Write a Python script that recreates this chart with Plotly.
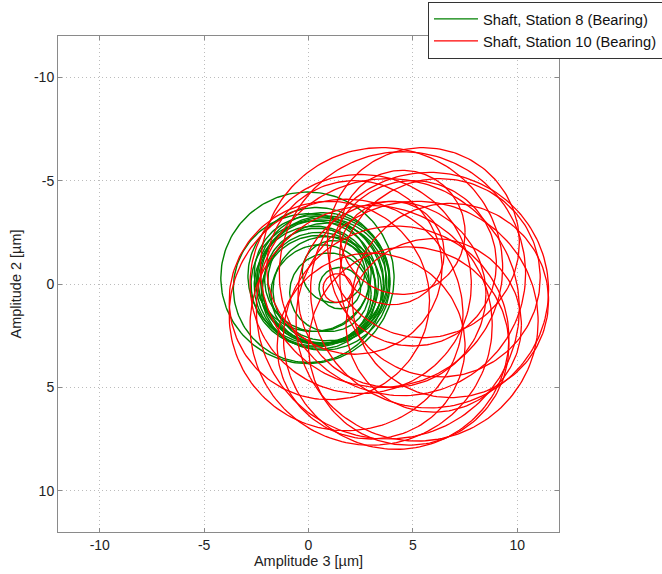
import numpy as np
import plotly.graph_objects as go

# Orbit rings: centre (Amplitude 3, Amplitude 2) and radius, in micrometres
st8_cx = [-0.05, 0.4, 0.6, 0.3, 0.8, 0.5, 0.2, 0.7, 0.9, 0.4, 0.6, 1.0, 1.5, 1.2, 0.0,
          0.7, 0.3, 0.9, 0.5]
st8_cy = [-0.3, -0.4, -0.1, 0.1, -0.2, 0.2, -0.5, 0.0, 0.3, -0.2, 0.5, 0.4, 0.2, -0.6, 0.2,
          -0.3, 0.0, -0.1, 0.4]
st8_r = [4.15, 3.3, 3.0, 2.9, 3.1, 2.7, 2.8, 3.2, 2.6, 2.5, 2.4, 1.9, 1.0, 1.5, 3.6,
         3.15, 3.05, 2.85, 2.75]

st10_cx = [3.5, 4.5, 5.8, 4.2, 1.8, 2.5, 5.2, 6.3, 3.0, 4.0, 5.0, 2.2, 6.0, 3.0, 6.8, 3.8,
           1.0, 4.8, 1.4, 4.5, 5.5, 4.0]
st10_cy = [-0.8, -0.5, 0.3, 2.6, 1.5, 0.0, 1.8, -0.3, 2.0, 0.5, -1.0, -0.8, 2.0, 3.0, 0.8, 1.2,
           0.8, 3.0, 0.2, -2.5, -2.0, -1.5]
st10_r = [5.8, 5.9, 5.7, 5.4, 5.6, 5.3, 5.8, 4.8, 5.8, 4.5, 4.0, 4.2, 4.2, 4.5, 4.7, 6.3,
          4.8, 4.8, 0.7, 3.0, 4.6, 2.5]

x_ticks = [-10, -5, 0, 5, 10]
y_ticks = [-10, -5, 0, 5, 10]
tick_text = ["-10", "-5", "0", "5", "10"]

FONT = "Liberation Sans, Arial"


def rings(cx, cy, r, n=181):
    t = np.linspace(0, 2 * np.pi, n)
    xs, ys = [], []
    for a, b, c in zip(cx, cy, r):
        xs += list(a + c * np.cos(t)) + [None]
        ys += list(b + c * np.sin(t)) + [None]
    return xs, ys


fig = go.Figure()
x8, y8 = rings(st8_cx, st8_cy, st8_r)
x10, y10 = rings(st10_cx, st10_cy, st10_r)
fig.add_trace(go.Scatter(x=x8, y=y8, mode="lines", name="Shaft, Station 8 (Bearing)",
                         line=dict(color="#008000", width=1.4)))
fig.add_trace(go.Scatter(x=x10, y=y10, mode="lines", name="Shaft, Station 10 (Bearing)",
                         line=dict(color="#ff0000", width=1.3)))

axis_common = dict(
    showgrid=True, gridcolor="#bcbcbc", griddash="1px,3px", gridwidth=1,
    zeroline=False, showline=True, linecolor="#8a8a8a", linewidth=1, mirror="ticks",
    ticks="inside", ticklen=4, tickcolor="#8a8a8a",
    tickfont=dict(family=FONT, size=14, color="#222222"),
)

fig.update_layout(
    width=662, height=574,
    margin=dict(l=58, r=103, t=36, b=42, autoexpand=False),
    paper_bgcolor="white", plot_bgcolor="white",
    xaxis=dict(range=[-12, 12], tickvals=x_ticks, ticktext=tick_text,
               title=dict(text="Amplitude 3 [µm]", standoff=2,
                          font=dict(family=FONT, size=14.5, color="#222222")),
               **axis_common),
    yaxis=dict(range=[12, -12], tickvals=y_ticks, ticktext=tick_text,
               title=dict(text="Amplitude 2 [µm]", standoff=8,
                          font=dict(family=FONT, size=14.5, color="#222222")),
               **axis_common),
    legend=dict(x=0.7385, y=1.069, xanchor="left", yanchor="top",
                bgcolor="white", bordercolor="#333333", borderwidth=1,
                font=dict(family=FONT, size=14.7, color="#111111"),
                tracegroupgap=0, itemwidth=44),
    showlegend=True,
)

fig.write_html("out.html")
